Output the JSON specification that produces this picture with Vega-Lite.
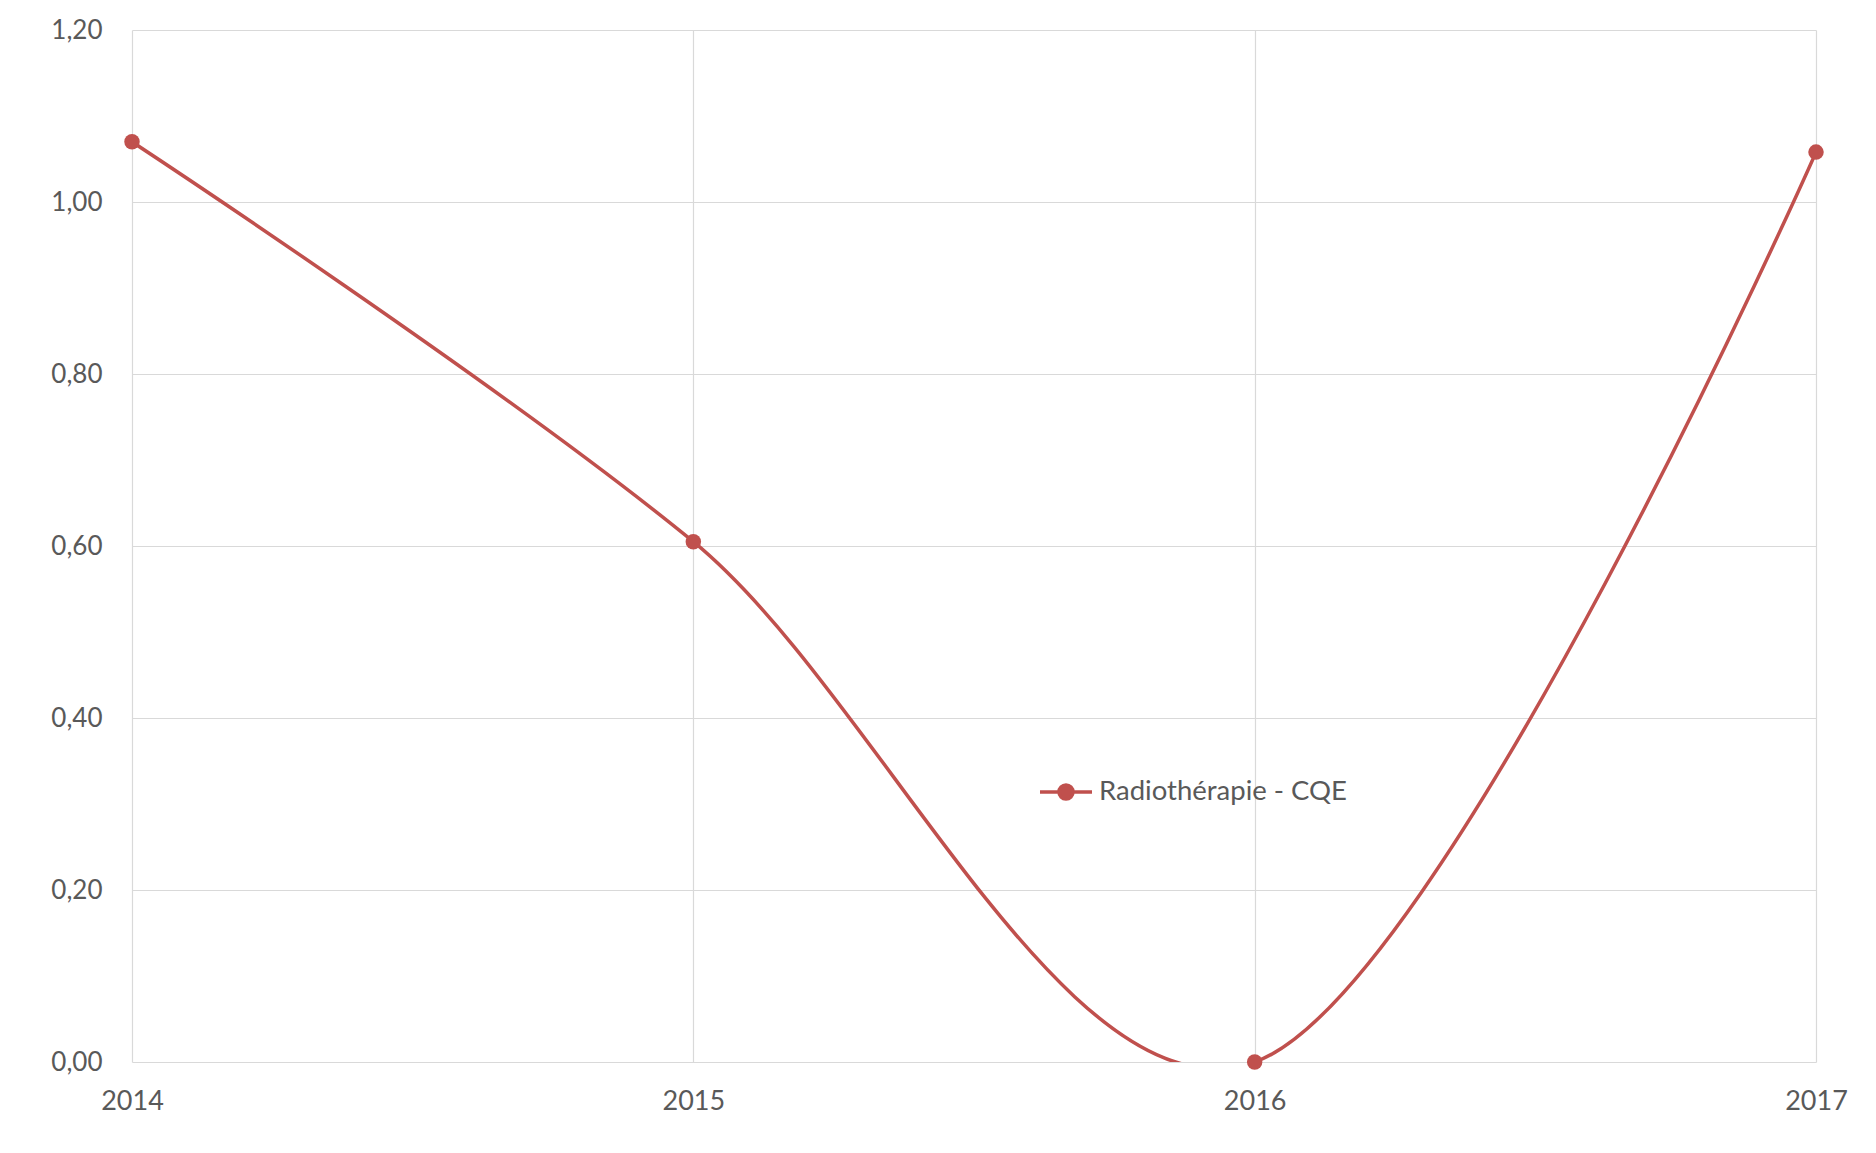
{
  "$schema": "https://vega.github.io/schema/vega-lite/v6.json",
  "width": 1684,
  "height": 1032,
  "autosize": {"type": "none"},
  "padding": {"left": 132, "top": 30, "right": 60, "bottom": 91},
  "background": "white",
  "config": {"view": {"stroke": null}, "font": "Lato"},
  "data": {"values": [
    {"year": 2014, "value": 1.07, "series": "Radiothérapie - CQE"},
    {"year": 2015, "value": 0.605, "series": "Radiothérapie - CQE"},
    {"year": 2016, "value": 0.0, "series": "Radiothérapie - CQE"},
    {"year": 2017, "value": 1.058, "series": "Radiothérapie - CQE"}
  ]},
  "encoding": {
    "x": {"field": "year", "type": "quantitative",
      "scale": {"domain": [2014, 2017], "nice": false, "zero": false},
      "axis": {"values": [2014, 2015, 2016, 2017], "format": "d", "title": null, "grid": true,
        "gridColor": "#D9D9D9", "gridWidth": 1.2, "domain": false, "ticks": false, "labelPadding": 26,
        "labelFontSize": 27, "labelColor": "#595959", "labelFlush": false}},
    "y": {"field": "value", "type": "quantitative",
      "scale": {"domain": [0, 1.2], "nice": false},
      "axis": {"values": [0, 0.2, 0.4, 0.6, 0.8, 1.0, 1.2], "title": null, "grid": true,
        "gridColor": "#D9D9D9", "gridWidth": 1.2, "domain": false, "ticks": false, "labelPadding": 30,
        "labelFontSize": 26, "labelColor": "#595959",
        "labelExpr": "replace(format(datum.value, '.2f'), '.', ',')"}}
  },
  "layer": [
    {"mark": {"type": "line", "interpolate": "cardinal", "clip": true, "strokeWidth": 3.5},
      "encoding": {"color": {"field": "series", "type": "nominal",
        "scale": {"range": ["#C0504D"]},
        "legend": {"orient": "none", "legendX": 906, "legendY": 734, "title": null,
          "symbolType": "M-1,0H1M-0.27,0a0.27,0.27 0 1,0 0.54,0a0.27,0.27 0 1,0 -0.54,0Z",
          "symbolSize": 2704, "symbolStrokeWidth": 3.5, "symbolFillColor": "#C0504D",
          "symbolStrokeColor": "#C0504D", "labelLimit": 0,
          "labelFontSize": 27.5, "labelColor": "#595959", "labelOffset": 5}}}},
    {"mark": {"type": "point", "filled": true, "size": 240, "opacity": 1},
      "encoding": {"color": {"field": "series", "type": "nominal",
        "scale": {"range": ["#C0504D"]}, "legend": null}}}
  ]
}
